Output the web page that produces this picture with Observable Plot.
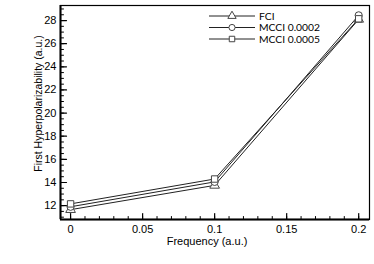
<!DOCTYPE html>
<html><head><meta charset="utf-8">
<script src="https://cdn.jsdelivr.net/npm/d3@7"></script>
<script src="https://cdn.jsdelivr.net/npm/@observablehq/plot@0.6"></script>
<style>
body{margin:0;background:#fff;}
#wrap{position:relative;width:374px;height:264px;}
#legend{position:absolute;left:0;top:0;}
</style>
</head><body><div id="wrap"></div>
<script>
const freq = [0, 0.1, 0.2];
const seriesNames = ["FCI", "MCCI 0.0002", "MCCI 0.0005"];
const fci = [11.65, 13.75, 28.1];
const mcci2 = [11.9, 14.05, 28.45];
const mcci5 = [12.15, 14.3, 28.15];
const symbols = ["triangle", "circle", "square"];
const xTickLabels = [0, 0.05, 0.1, 0.15, 0.2];
const yTickLabels = [12, 14, 16, 18, 20, 22, 24, 26, 28];
const xLabel = "Frequency (a.u.)";
const yLabel = "First Hyperpolarizability (a.u.)";

const values = [fci, mcci2, mcci5];
const data = [];
values.forEach((vals, s) => vals.forEach((v, i) => data.push({series: seriesNames[s], sym: symbols[s], x: freq[i], y: v})));

const xDomain = [-0.007, 0.2075];
const yDomain = [10.8, 29.3];
const xMinor = d3.range(0, 0.2001, 0.01).map(d => +d.toFixed(3));
const yMinor = d3.range(11, 29.01, 0.5);

const tickShape = {draw(ctx, l) { ctx.moveTo(0, 0); ctx.lineTo(0, -l); }};
const sans = "Liberation Sans, Arial, sans-serif";

const chart = Plot.plot({
  width: 374, height: 264,
  marginLeft: 60, marginRight: 5, marginTop: 5, marginBottom: 45,
  style: {fontFamily: sans, fontSize: "11px", background: "white"},
  x: {domain: xDomain},
  y: {domain: yDomain},
  symbol: {domain: symbols, range: symbols},
  marks: [
    Plot.axisX(xTickLabels, {tickSize: 0, tickPadding: 6, fontSize: 11, label: null, tickFormat: d => String(d)}),
    Plot.axisY(yTickLabels, {tickSize: 0, tickPadding: 4, fontSize: 11, label: null}),
    Plot.vector(xMinor, {x: d => d, y: yDomain[0], length: 3, anchor: "start", rotate: 0, shape: tickShape, stroke: "black", strokeWidth: 1}),
    Plot.vector(xTickLabels, {x: d => d, y: yDomain[0], length: 6, anchor: "start", rotate: 0, shape: tickShape, stroke: "black", strokeWidth: 1.2}),
    Plot.vector(yMinor, {y: d => d, x: xDomain[0], length: 3, anchor: "start", rotate: 90, shape: tickShape, stroke: "black", strokeWidth: 1}),
    Plot.vector(yTickLabels, {y: d => d, x: xDomain[0], length: 6, anchor: "start", rotate: 90, shape: tickShape, stroke: "black", strokeWidth: 1.2}),
    Plot.frame({stroke: "black", strokeWidth: 1.2}),
    Plot.ruleX([xDomain[0]], {stroke: "black", strokeWidth: 2}),
    Plot.ruleY([yDomain[0]], {stroke: "black", strokeWidth: 2}),
    Plot.line(data, {x: "x", y: "y", z: "series", stroke: "#222", strokeWidth: 1}),
    Plot.dot(data, {x: "x", y: "y", symbol: "sym", r: 3.6, stroke: "#444", fill: "white", strokeWidth: 1}),
    Plot.text([xLabel], {frameAnchor: "bottom", lineAnchor: "middle", textAnchor: "middle", dx: -8, dy: 22, fontSize: 11, fill: "black"}),
    Plot.text([yLabel], {frameAnchor: "left", rotate: -90, textAnchor: "middle", lineAnchor: "middle", dx: -22, dy: -9, fontSize: 10.5, fill: "black"})
  ]
});
document.getElementById("wrap").appendChild(chart);

// legend overlay
const leg = d3.select("#wrap").append("svg").attr("id", "legend").attr("width", 374).attr("height", 60);
seriesNames.forEach((name, i) => {
  const y = 16 + i * 11.5;
  const g = leg.append("g");
  g.append("line").attr("x1", 209).attr("x2", 255).attr("y1", y).attr("y2", y).attr("stroke", "#222").attr("stroke-width", 1);
  g.append("path").attr("d", d3.symbol(d3[["symbolTriangle", "symbolCircle", "symbolSquare"][i]], 30)())
    .attr("transform", `translate(232,${y})`).attr("fill", "white").attr("stroke", "#444");
  g.append("text").attr("x", 259).attr("y", y).attr("dy", "0.35em").attr("font-family", "Lato, sans-serif").attr("font-size", 10.3).text(name);
});
</script></body></html>
